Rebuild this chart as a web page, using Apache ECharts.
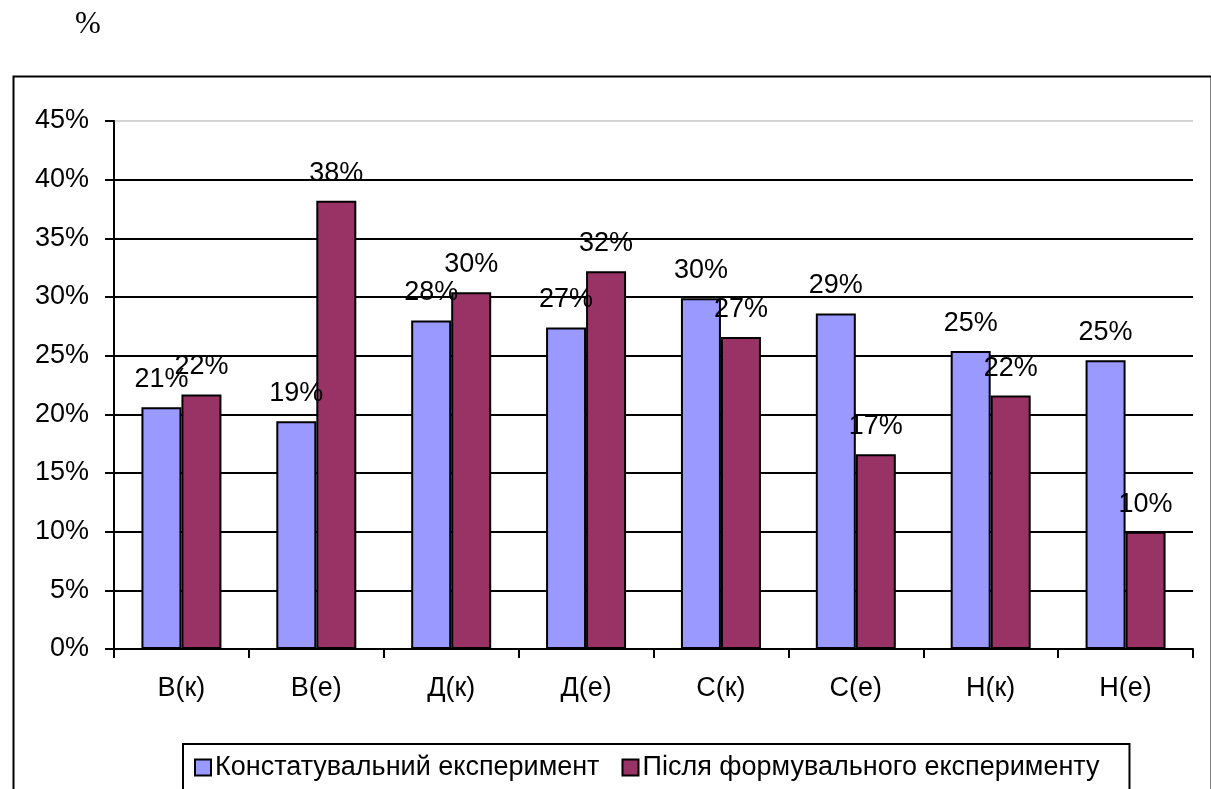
<!DOCTYPE html>
<html>
<head>
<meta charset="utf-8">
<style>
  html, body { margin: 0; padding: 0; background: #fff; }
  #chart { width: 1211px; height: 789px; }
</style>
<script src="https://cdn.jsdelivr.net/npm/echarts@6/dist/echarts.min.js"></script>
</head>
<body>
<div id="chart"></div>
<script>
// Categories along the x axis
const categories = ['В(к)', 'В(е)', 'Д(к)', 'Д(е)', 'С(к)', 'С(е)', 'Н(к)', 'Н(е)'];

// Series names
const seriesNames = ['Констатувальний експеримент', 'Після формувального експерименту'];

// Shares (fractions of 1) for each category
const konstatValues = [0.206, 0.194, 0.280, 0.274, 0.299, 0.286, 0.254, 0.246];
const pislyaValues  = [0.217, 0.382, 0.304, 0.322, 0.266, 0.166, 0.216, 0.100];

// Y axis range
const yMin = 0;
const yMax = 0.45;
const yStep = 0.05;

const pct = v => Math.round(v * 100) + '%';
const FONT = '"Liberation Sans", Arial, sans-serif';
const FS = 27;

// Gridline colours: black lines, light grey at the top of the plot
const gridColors = [];
for (let v = yMin; v <= yMax + 1e-9; v += yStep) gridColors.push('#000');
gridColors[gridColors.length - 1] = '#d4d4d4';

const chart = echarts.init(document.getElementById('chart'), null, { renderer: 'canvas' });

const labelStyle = {
  show: true,
  position: 'top',
  distance: 14,
  color: '#000',
  fontFamily: FONT,
  fontSize: FS,
  formatter: p => pct(p.value)
};

chart.setOption({
  animation: false,
  backgroundColor: '#fff',
  title: {
    text: '%',
    left: 70,
    top: 4,
    textStyle: { fontFamily: '"Liberation Serif", "Times New Roman", serif', fontSize: 31, fontWeight: 'normal', color: '#000' }
  },
  graphic: [{
    type: 'rect',
    left: 11,
    top: 74,
    shape: { width: 1198, height: 800 },
    style: { fill: 'none', stroke: '#000', lineWidth: 2 },
    silent: true,
    z: -1
  }],
  grid: { left: 114, right: 18, top: 121, bottom: 140, containLabel: false },
  legend: {
    left: 183,
    top: 744,
    orient: 'horizontal',
    padding: [10, 30, 14, 11],
    itemWidth: 16,
    itemHeight: 16,
    itemGap: 22,
    borderColor: '#000',
    borderWidth: 2,
    icon: 'rect',
    textStyle: { fontFamily: FONT, fontSize: FS, color: '#000', padding: [0, 0, 0, -1] },
    data: seriesNames
  },
  xAxis: {
    type: 'category',
    data: categories,
    axisLine: { lineStyle: { color: '#000', width: 2 } },
    axisTick: { show: true, interval: 0, alignWithLabel: false, length: 9, lineStyle: { color: '#000', width: 2 } },
    axisLabel: { color: '#000', fontFamily: FONT, fontSize: FS, margin: 26, interval: 0 },
    splitLine: { show: false }
  },
  yAxis: {
    type: 'value',
    min: yMin,
    max: yMax,
    interval: yStep,
    axisLine: { show: true, lineStyle: { color: '#000', width: 2 } },
    axisTick: { show: true, length: 9, lineStyle: { color: '#000', width: 2 } },
    axisLabel: { color: '#000', fontFamily: FONT, fontSize: FS, margin: 25, formatter: v => pct(v) },
    splitLine: { show: true, lineStyle: { color: gridColors, width: 2 } }
  },
  series: [
    {
      name: seriesNames[0],
      type: 'bar',
      data: konstatValues,
      barWidth: 40,
      barGap: '0%',
      itemStyle: { color: '#9999FF', borderColor: '#000', borderWidth: 2 },
      label: labelStyle
    },
    {
      name: seriesNames[1],
      type: 'bar',
      data: pislyaValues,
      barWidth: 40,
      barGap: '0%',
      itemStyle: { color: '#993366', borderColor: '#000', borderWidth: 2 },
      label: labelStyle
    }
  ]
});
</script>
</body>
</html>
